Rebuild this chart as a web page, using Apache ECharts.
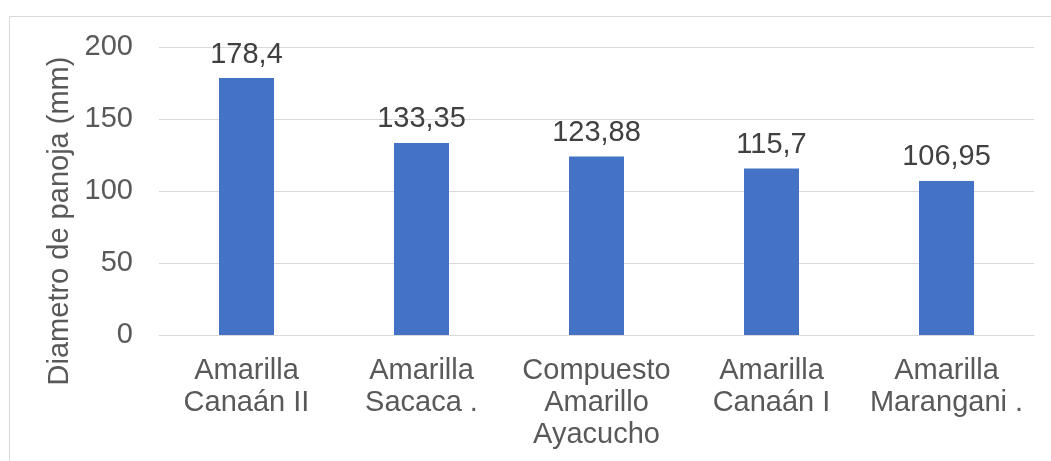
<!DOCTYPE html>
<html>
<head>
<meta charset="utf-8">
<script src="https://cdn.jsdelivr.net/npm/echarts@6/dist/echarts.min.js"></script>
<style>
  html, body { margin: 0; padding: 0; background: #ffffff; }
  #chart { width: 1051px; height: 461px; }
</style>
</head>
<body>
<div id="chart"></div>
<script>
// Panicle diameter by variety
const categories = [
  'Amarilla\nCanaán II',
  'Amarilla\nSacaca .',
  'Compuesto\nAmarillo\nAyacucho',
  'Amarilla\nCanaán I',
  'Amarilla\nMarangani .'
];
const diameterValues = [178.4, 133.35, 123.88, 115.7, 106.95];
const yTicks = { min: 0, max: 200, interval: 50 };
const yAxisTitle = 'Diametro de panoja (mm)';

const FONT = '"Liberation Sans", Arial, sans-serif';
const SIZE = 29;

const chart = echarts.init(document.getElementById('chart'), null, { renderer: 'canvas' });

chart.setOption({
  animation: false,
  backgroundColor: '#ffffff',
  textStyle: { fontFamily: FONT },
  grid: { left: 159, right: 17, top: 47, bottom: 126, containLabel: false },
  graphic: [
    {
      type: 'rect',
      shape: { x: 9.5, y: 16.5, width: 1100, height: 500 },
      style: { fill: 'none', stroke: '#d9d9d9', lineWidth: 1 },
      silent: true
    },
    {
      type: 'text',
      x: 60,
      y: 221,
      rotation: Math.PI / 2,
      style: {
        text: yAxisTitle,
        fontFamily: FONT,
        fontSize: SIZE,
        fill: '#595959',
        align: 'center',
        verticalAlign: 'middle'
      },
      silent: true
    }
  ],
  xAxis: {
    type: 'category',
    data: categories,
    axisLine: { show: true, lineStyle: { color: '#d9d9d9', width: 1 } },
    axisTick: { show: false },
    axisLabel: {
      interval: 0,
      color: '#595959',
      fontFamily: FONT,
      fontSize: SIZE,
      lineHeight: 32,
      margin: 20,
      align: 'center'
    }
  },
  yAxis: {
    type: 'value',
    min: yTicks.min,
    max: yTicks.max,
    interval: yTicks.interval,
    axisLine: { show: false },
    axisTick: { show: false },
    splitLine: { lineStyle: { color: '#d9d9d9', width: 1 } },
    axisLabel: {
      color: '#595959',
      fontFamily: FONT,
      fontSize: SIZE,
      margin: 26
    }
  },
  series: [
    {
      type: 'bar',
      data: diameterValues,
      barWidth: 55,
      itemStyle: { color: '#4472C4' },
      label: {
        show: true,
        position: 'top',
        distance: 9,
        color: '#404040',
        fontFamily: FONT,
        fontSize: SIZE,
        formatter: p => String(p.value).replace('.', ',')
      }
    }
  ]
});
</script>
</body>
</html>
